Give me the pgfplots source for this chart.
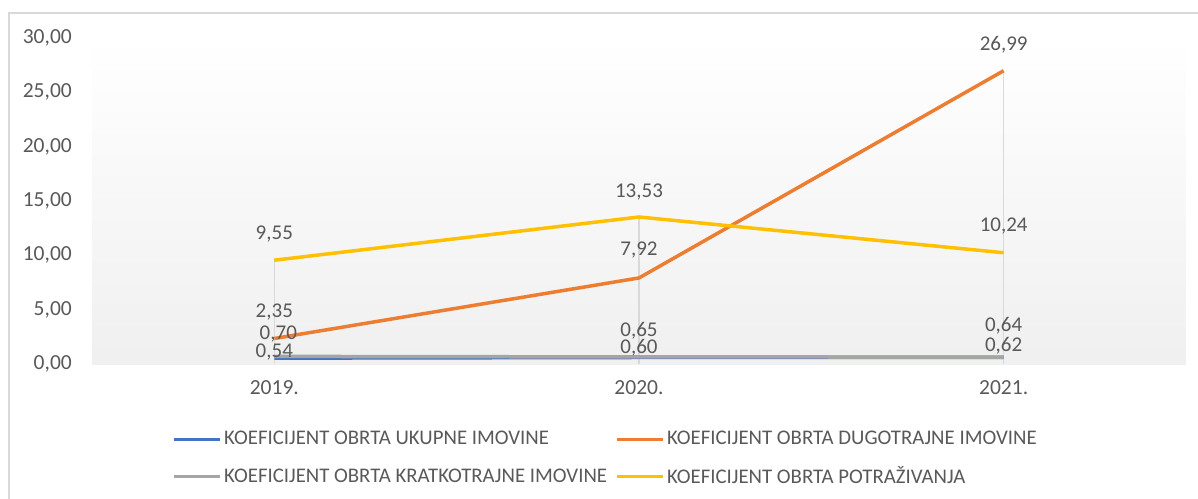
\documentclass[border=0pt]{standalone}
\usepackage{pgfplots}
\pgfplotsset{compat=1.18}
\usepackage{fontspec}
\setmainfont{Carlito}
\definecolor{cblue}{HTML}{4472C4}
\definecolor{corange}{HTML}{ED7D31}
\definecolor{cgray}{HTML}{A5A5A5}
\definecolor{cyellow}{HTML}{FFC000}
\definecolor{txt}{HTML}{595959}
\definecolor{gridc}{HTML}{D9D9D9}
\begin{document}
\fontsize{21bp}{25bp}\selectfont
\begin{tikzpicture}
\path[use as bounding box] (0,0) rectangle (1198bp,-499bp);
\draw[gridc, line width=1.5bp] (9bp,-499bp) -- (9bp,-13bp) -- (1198bp,-13bp);
\begin{axis}[
  at={(92bp,-364bp)}, anchor=south west,
  scale only axis, width=1094bp, height=326bp,
  clip=false,
  xmin=-0.5, xmax=2.5, ymin=0, ymax=30,
  xtick={0,1,2}, xticklabels={2019.,2020.,2021.},
  ytick={0,5,10,15,20,25,30},
  yticklabels={{0,00},{5,00},{10,00},{15,00},{20,00},{25,00},{30,00}},
  major tick length=0pt,
  separate axis lines,
  axis x line*=bottom, axis y line*=left,
  x axis line style={draw=gridc, line width=1.2bp, -},
  y axis line style={draw=none},
  tick label style={font=\fontsize{21.5bp}{25bp}\selectfont, text=txt},
  yticklabel style={anchor=east, inner sep=0pt, xshift=-20bp},
  xticklabel style={anchor=center, inner sep=0pt, yshift=-24bp},
  /pgf/number format/assume math mode=true,
  legend columns=2,
  legend style={at={(rel axis cs:0.075,0)}, anchor=north west, yshift=-64bp, xshift=-2bp,
    draw=none, fill=none, inner sep=0pt, row sep=13bp,
    font=\fontsize{20.8bp}{25bp}\selectfont, text=txt,
    nodes={inner sep=3bp},
    /tikz/every even column/.append style={column sep=5bp}},
  legend cell align=left,
  legend image code/.code={\draw[#1, line width=3bp] (0bp,0bp) -- (46bp,0bp);},
  every axis plot/.append style={line width=3.5bp, line join=round},
]
\fill[top color=white, bottom color=black!6] (rel axis cs:0,0) rectangle (rel axis cs:1,1);
\addplot[gridc, line width=1.2bp, ycomb, forget plot] coordinates {(0,9.55) (1,13.53) (2,26.99)};
\addplot[cblue] coordinates {(0,0.54) (1,0.60) (2,0.62)};
\addlegendentry{KOEFICIJENT OBRTA UKUPNE IMOVINE}
\addplot[corange] coordinates {(0,2.35) (1,7.92) (2,26.99)};
\addlegendentry{KOEFICIJENT OBRTA DUGOTRAJNE IMOVINE}
\addplot[cgray] coordinates {(0,0.70) (1,0.65) (2,0.64)};
\addlegendentry{KOEFICIJENT OBRTA KRATKOTRAJNE IMOVINE}
\addplot[cyellow] coordinates {(0,9.55) (1,13.53) (2,10.24)};
\addlegendentry{KOEFICIJENT OBRTA POTRAŽIVANJA}
\begin{scope}[every node/.style={text=txt, inner sep=0pt, font=\fontsize{21bp}{25bp}\selectfont}]
\node[yshift=26bp] at (axis cs:0,9.55) {9,55};
\node[yshift=25bp] at (axis cs:1,13.53) {13,53};
\node[yshift=26bp] at (axis cs:2,26.99) {26,99};
\node[yshift=27bp] at (axis cs:2,10.24) {10,24};
\node[yshift=28bp] at (axis cs:1,7.92) {7,92};
\node[yshift=26bp] at (axis cs:0,2.35) {2,35};
\node[yshift=22bp, xshift=4bp] at (axis cs:0,0.70) {0,70};
\node[yshift=6bp] at (axis cs:0,0.54) {0,54};
\node[yshift=26bp] at (axis cs:1,0.65) {0,65};
\node[yshift=10bp] at (axis cs:1,0.60) {0,60};
\node[yshift=31bp] at (axis cs:2,0.64) {0,64};
\node[yshift=12bp] at (axis cs:2,0.62) {0,62};
\end{scope}
\end{axis}
\end{tikzpicture}
\end{document}
